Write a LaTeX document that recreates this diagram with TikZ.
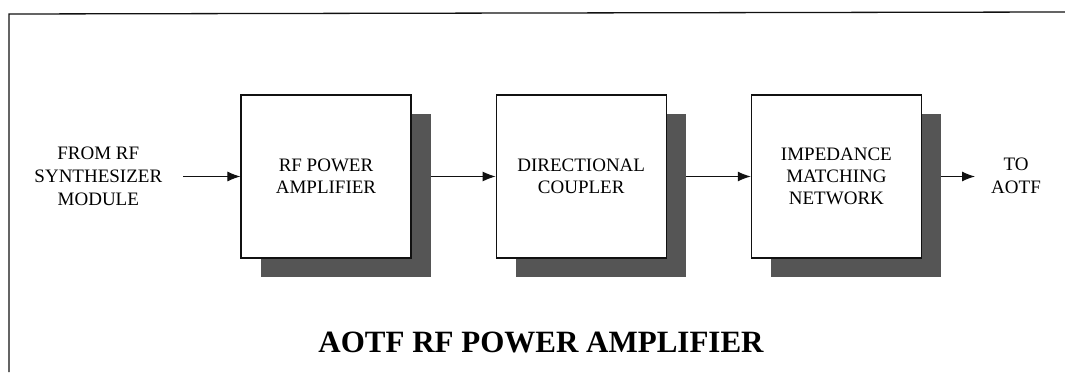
\documentclass[tikz,border=0pt]{standalone}
\usepackage{fontspec}
\setmainfont{Liberation Serif}
\usepackage{tikz}
\usetikzlibrary{arrows.meta,positioning,shadows,backgrounds}
\definecolor{ink}{HTML}{111111}
\definecolor{stipple}{HTML}{555555}

\begin{document}
\begin{tikzpicture}[x=1pt,y=1pt,>={Latex[length=13pt,width=10pt]},node distance=84pt,
  blk/.style={draw=ink,line width=1.2pt,fill=white,minimum width=170pt,minimum height=163pt,align=center,
    font=\fontsize{19}{22}\selectfont,drop shadow={shadow xshift=20pt,shadow yshift=-19pt,fill=stipple,opacity=1}},
  side/.style={align=center,inner sep=0pt,font=\fontsize{19}{23}\selectfont}]
\useasboundingbox (0,0) rectangle (1065,372);
\draw[ink,line width=1.3pt] (9,0) coordinate (fl) -- (9,358) coordinate (fc) -- (1065,360) coordinate (fr);
\node[blk] (pa) at (326,195.5) {RF POWER\\AMPLIFIER};
\node[blk,right=of pa] (dc) {DIRECTIONAL\\COUPLER};
\node[blk,right=of dc] (imn) {IMPEDANCE\\MATCHING\\NETWORK};
\node[side,left=78pt of pa] (src) {FROM RF\\SYNTHESIZER\\MODULE};
\node[side,right=69pt of imn,yshift=1pt] (dst) {TO\\AOTF};
\begin{scope}[on background layer]
\draw[->,ink,line width=1pt,shorten <=21pt] (src.east) -- (pa.west);
\draw[->,ink,line width=1pt] (pa.east) -- (dc.west);
\draw[->,ink,line width=1pt] (dc.east) -- (imn.west);
\draw[->,ink,line width=1pt,shorten >=16pt] (imn.east) -- (imn.east -| dst.west);
\end{scope}
\node[font=\fontsize{31}{35}\bfseries\selectfont] (ttl) at (541,30) {AOTF RF POWER AMPLIFIER};
\end{tikzpicture}
\end{document}
